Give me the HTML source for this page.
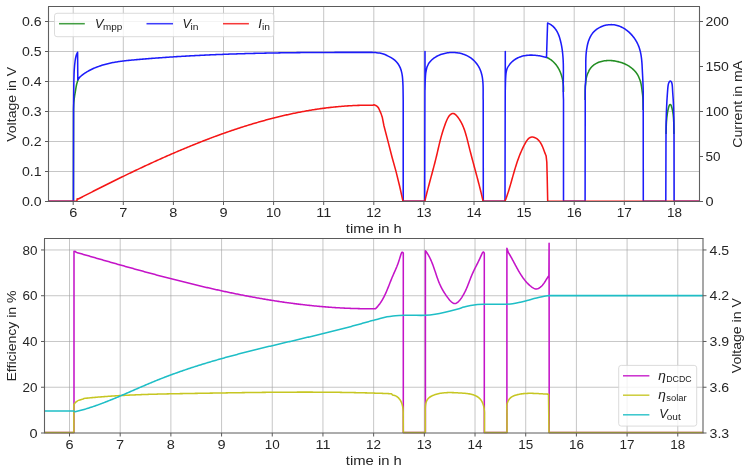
<!DOCTYPE html>
<html><head><meta charset="utf-8"><style>
html,body{margin:0;padding:0;background:#fff;}
svg{display:block;}
</style></head><body>
<svg width="756" height="470" viewBox="0 0 756 470">
<rect width="756" height="470" fill="#fff"/>
<path d="M73.20,6.50 V201.50 M123.30,6.50 V201.50 M173.40,6.50 V201.50 M223.50,6.50 V201.50 M273.60,6.50 V201.50 M323.70,6.50 V201.50 M373.80,6.50 V201.50 M423.90,6.50 V201.50 M474.00,6.50 V201.50 M524.10,6.50 V201.50 M574.20,6.50 V201.50 M624.30,6.50 V201.50 M674.40,6.50 V201.50" stroke="#a0a0a0" stroke-opacity="0.6" stroke-width="1.0" fill="none"/>
<path d="M48.50,171.50 H699.50 M48.50,141.50 H699.50 M48.50,111.50 H699.50 M48.50,81.50 H699.50 M48.50,51.50 H699.50 M48.50,21.50 H699.50" stroke="#a0a0a0" stroke-opacity="0.6" stroke-width="1" fill="none"/>
<clipPath id="ct"><rect x="48.50" y="5.50" width="651.00" height="197.00"/></clipPath>
<g clip-path="url(#ct)" fill="none" stroke-width="1.55" stroke-linejoin="round" stroke-linecap="butt">
<path d="M73.45,201.30 L73.55,110.00 L73.55,110.00 C73.59,108.83 73.62,105.33 73.80,103.00 C73.97,100.67 74.30,98.17 74.60,96.00 C74.90,93.83 75.27,91.92 75.60,90.00 C75.93,88.08 76.23,86.08 76.60,84.50 C76.97,82.92 77.60,81.17 77.80,80.50 L77.80,80.50 L79.00,77.80 M546.50,57.40 L547.47,57.78 L548.43,58.27 L549.36,58.79 L550.25,59.36 L551.12,59.95 L551.94,60.59 L552.74,61.25 L553.51,61.95 L554.24,62.68 L554.94,63.43 L555.61,64.22 L556.26,65.03 L556.87,65.86 L557.45,66.72 L558.01,67.60 L558.53,68.50 L559.03,69.42 L559.50,70.36 L559.94,71.32 L560.35,72.29 L560.73,73.28 L561.09,74.27 L561.43,75.29 L561.73,76.31 L562.02,77.34 L562.27,78.38 L562.50,79.42 L562.71,80.47 L562.89,81.52 L563.05,82.58 L563.18,83.64 L563.30,84.69 L563.39,85.75 L563.45,86.80 L563.50,87.85 L563.52,88.90 L563.52,89.93 L563.50,90.96 L563.50,92.00 M585.15,100.00 C585.17,98.33 585.17,92.67 585.25,90.00 C585.33,87.33 585.44,85.92 585.60,84.00 C585.76,82.08 585.92,80.08 586.20,78.50 C586.48,76.92 586.90,75.65 587.30,74.50 C587.70,73.35 588.38,72.08 588.60,71.60 L588.60,71.60 L589.00,70.62 L589.52,69.70 L590.09,68.84 L590.70,68.02 L591.35,67.25 L592.03,66.53 L592.75,65.85 L593.50,65.22 L594.28,64.63 L595.10,64.08 L595.94,63.58 L596.81,63.12 L597.70,62.69 L598.62,62.31 L599.55,61.97 L600.51,61.67 L601.48,61.40 L602.47,61.17 L603.48,60.98 L604.49,60.82 L605.52,60.70 L606.56,60.61 L607.60,60.55 L608.66,60.53 L609.71,60.54 L610.77,60.57 L611.82,60.64 L612.88,60.74 L613.93,60.86 L614.98,61.01 L616.02,61.19 L617.06,61.40 L618.08,61.63 L619.10,61.88 L620.11,62.17 L621.11,62.48 L622.09,62.82 L623.06,63.18 L624.02,63.57 L624.96,63.98 L625.89,64.43 L626.80,64.90 L627.69,65.39 L628.57,65.91 L629.42,66.46 L630.25,67.03 L631.07,67.63 L631.86,68.26 L632.62,68.91 L633.37,69.59 L634.08,70.30 L634.77,71.03 L635.44,71.78 L636.07,72.57 L636.68,73.38 L637.26,74.21 L637.80,75.07 L638.30,76.00 L638.30,76.00 C638.63,76.85 639.77,79.38 640.30,81.10 C640.83,82.82 641.17,84.40 641.50,86.30 C641.83,88.20 642.07,90.47 642.30,92.50 C642.53,94.53 642.75,95.58 642.90,98.50 C643.05,101.42 643.15,108.08 643.20,110.00 M666.10,134.00 C666.13,132.50 666.18,127.67 666.30,125.00 C666.42,122.33 666.60,120.08 666.80,118.00 C667.00,115.92 667.23,114.13 667.50,112.50 C667.77,110.87 668.10,109.40 668.40,108.20 C668.70,107.00 669.00,105.92 669.30,105.30 C669.60,104.68 669.90,104.50 670.20,104.50 C670.50,104.50 670.80,104.68 671.10,105.30 C671.40,105.92 671.70,107.00 672.00,108.20 C672.30,109.40 672.65,110.87 672.90,112.50 C673.15,114.13 673.34,115.92 673.50,118.00 C673.66,120.08 673.77,122.33 673.85,125.00 C673.93,127.67 673.98,132.50 674.00,134.00" stroke="#238e23"/>
<path d="M48.15,201.30 L73.45,201.30 L73.55,110.00 L73.55,110.00 C73.59,105.83 73.68,91.67 73.80,85.00 C73.92,78.33 74.03,74.00 74.25,70.00 C74.47,66.00 74.77,63.42 75.10,61.00 C75.42,58.58 75.78,56.97 76.20,55.50 C76.62,54.03 77.37,52.75 77.60,52.20 L77.60,52.20 L77.80,80.00 L77.80,80.00 L78.80,78.06 L79.80,77.13 L80.80,76.25 L81.80,75.42 L82.80,74.64 L83.80,73.89 L84.80,73.19 L85.81,72.53 L86.81,71.90 L87.81,71.31 L88.81,70.75 L89.81,70.21 L90.81,69.71 L91.81,69.23 L92.81,68.77 L93.81,68.33 L94.81,67.90 L95.81,67.50 L96.81,67.10 L97.81,66.73 L98.81,66.36 L99.81,66.02 L100.82,65.68 L101.82,65.36 L102.82,65.05 L103.82,64.76 L104.82,64.47 L105.82,64.20 L106.82,63.94 L107.82,63.69 L108.82,63.46 L109.82,63.23 L110.82,63.01 L111.82,62.80 L112.82,62.60 L113.82,62.41 L114.83,62.23 L115.83,62.06 L116.83,61.89 L117.83,61.74 L118.83,61.59 L119.83,61.44 L120.83,61.30 L121.83,61.17 L122.83,61.04 L123.83,60.92 L124.83,60.81 L125.83,60.69 L126.83,60.59 L127.83,60.48 L128.83,60.38 L129.84,60.28 L130.84,60.18 L131.84,60.09 L132.84,60.00 L133.84,59.91 L134.84,59.82 L135.84,59.73 L136.84,59.64 L137.84,59.55 L138.84,59.46 L139.84,59.38 L140.84,59.29 L141.84,59.21 L142.84,59.12 L143.84,59.04 L144.85,58.96 L145.85,58.87 L146.85,58.79 L147.85,58.71 L148.85,58.63 L149.85,58.55 L150.85,58.47 L151.85,58.39 L152.85,58.32 L153.85,58.24 L154.85,58.16 L155.85,58.09 L156.85,58.01 L157.85,57.94 L158.85,57.86 L159.86,57.79 L160.86,57.72 L161.86,57.65 L162.86,57.58 L163.86,57.51 L164.86,57.44 L165.86,57.37 L166.86,57.30 L167.86,57.23 L168.86,57.16 L169.86,57.10 L170.86,57.03 L171.86,56.96 L172.86,56.90 L173.87,56.83 L174.87,56.77 L175.87,56.71 L176.87,56.64 L177.87,56.58 L178.87,56.52 L179.87,56.46 L180.87,56.40 L181.87,56.34 L182.87,56.28 L183.87,56.22 L184.87,56.16 L185.87,56.11 L186.87,56.05 L187.87,55.99 L188.88,55.94 L189.88,55.88 L190.88,55.83 L191.88,55.77 L192.88,55.72 L193.88,55.67 L194.88,55.62 L195.88,55.56 L196.88,55.51 L197.88,55.46 L198.88,55.41 L199.88,55.36 L200.88,55.31 L201.88,55.26 L202.88,55.22 L203.89,55.17 L204.89,55.12 L205.89,55.07 L206.89,55.03 L207.89,54.98 L208.89,54.94 L209.89,54.89 L210.89,54.85 L211.89,54.80 L212.89,54.76 L213.89,54.72 L214.89,54.68 L215.89,54.64 L216.89,54.59 L217.89,54.55 L218.90,54.51 L219.90,54.47 L220.90,54.43 L221.90,54.40 L222.90,54.36 L223.90,54.32 L224.90,54.28 L225.90,54.25 L226.90,54.21 L227.90,54.17 L228.90,54.14 L229.90,54.10 L230.90,54.07 L231.90,54.03 L232.91,54.00 L233.91,53.97 L234.91,53.93 L235.91,53.90 L236.91,53.87 L237.91,53.84 L238.91,53.81 L239.91,53.78 L240.91,53.75 L241.91,53.72 L242.91,53.69 L243.91,53.66 L244.91,53.63 L245.91,53.60 L246.91,53.57 L247.92,53.55 L248.92,53.52 L249.92,53.49 L250.92,53.47 L251.92,53.44 L252.92,53.42 L253.92,53.39 L254.92,53.37 L255.92,53.34 L256.92,53.32 L257.92,53.29 L258.92,53.27 L259.92,53.25 L260.92,53.23 L261.92,53.20 L262.93,53.18 L263.93,53.16 L264.93,53.14 L265.93,53.12 L266.93,53.10 L267.93,53.08 L268.93,53.06 L269.93,53.04 L270.93,53.02 L271.93,53.00 L272.93,52.98 L273.93,52.97 L274.93,52.95 L275.93,52.93 L276.93,52.91 L277.94,52.90 L278.94,52.88 L279.94,52.87 L280.94,52.85 L281.94,52.83 L282.94,52.82 L283.94,52.81 L284.94,52.79 L285.94,52.78 L286.94,52.76 L287.94,52.75 L288.94,52.74 L289.94,52.72 L290.94,52.71 L291.95,52.70 L292.95,52.69 L293.95,52.67 L294.95,52.66 L295.95,52.65 L296.95,52.64 L297.95,52.63 L298.95,52.62 L299.95,52.61 L300.95,52.60 L301.95,52.59 L302.95,52.58 L303.95,52.57 L304.95,52.56 L305.95,52.55 L306.96,52.54 L307.96,52.54 L308.96,52.53 L309.96,52.52 L310.96,52.51 L311.96,52.51 L312.96,52.50 L313.96,52.49 L314.96,52.48 L315.96,52.48 L316.96,52.47 L317.96,52.47 L318.96,52.46 L319.96,52.45 L320.96,52.45 L321.97,52.44 L322.97,52.44 L323.97,52.43 L324.97,52.43 L325.97,52.43 L326.97,52.42 L327.97,52.42 L328.97,52.41 L329.97,52.41 L330.97,52.41 L331.97,52.40 L332.97,52.40 L333.97,52.40 L334.97,52.39 L335.97,52.39 L336.98,52.39 L337.98,52.39 L338.98,52.38 L339.98,52.38 L340.98,52.38 L341.98,52.38 L342.98,52.38 L343.98,52.38 L344.98,52.37 L345.98,52.37 L346.98,52.37 L347.98,52.37 L348.98,52.37 L349.98,52.37 L350.99,52.37 L351.99,52.37 L352.99,52.37 L353.99,52.37 L354.99,52.37 L355.99,52.37 L356.99,52.37 L357.99,52.37 L358.99,52.37 L359.99,52.37 L360.99,52.37 L361.99,52.37 L362.99,52.37 L363.99,52.37 L364.99,52.37 L366.00,52.38 L367.00,52.38 L368.00,52.38 L369.00,52.38 L370.00,52.38 L371.00,52.38 L372.00,52.38 L373.00,52.40 L373.00,52.40 C373.47,52.43 374.68,52.48 375.80,52.60 C376.92,52.72 378.42,52.85 379.70,53.10 C380.98,53.35 382.23,53.67 383.50,54.10 C384.77,54.53 386.03,55.12 387.30,55.70 C388.57,56.28 389.82,56.83 391.10,57.60 C392.38,58.37 393.85,59.28 395.00,60.30 C396.15,61.32 397.12,62.43 398.00,63.70 C398.88,64.97 399.65,66.30 400.30,67.90 C400.95,69.50 401.52,71.52 401.90,73.30 C402.28,75.08 402.42,76.48 402.60,78.60 C402.78,80.72 402.90,82.43 403.00,86.00 C403.10,89.57 403.17,97.67 403.20,100.00 L403.20,100.00 L403.20,201.30 L424.70,201.30 L425.00,51.60 L425.00,90.00 L425.00,90.00 C425.04,88.33 425.13,82.75 425.25,80.00 C425.37,77.25 425.51,75.25 425.70,73.50 C425.89,71.75 426.15,70.65 426.40,69.50 C426.65,68.35 426.83,67.58 427.20,66.60 C427.57,65.62 428.37,64.10 428.60,63.60 L428.60,63.60 L429.18,62.73 L429.82,61.94 L430.49,61.19 L431.19,60.46 L431.92,59.77 L432.68,59.11 L433.47,58.49 L434.28,57.89 L435.12,57.32 L435.99,56.79 L436.87,56.29 L437.78,55.82 L438.70,55.38 L439.65,54.97 L440.61,54.59 L441.58,54.24 L442.57,53.93 L443.57,53.64 L444.59,53.39 L445.61,53.17 L446.64,52.98 L447.68,52.82 L448.72,52.69 L449.77,52.59 L450.82,52.53 L451.87,52.49 L452.93,52.49 L453.98,52.51 L455.03,52.57 L456.07,52.66 L457.11,52.78 L458.14,52.93 L459.17,53.11 L460.18,53.32 L461.19,53.56 L462.18,53.84 L463.16,54.14 L464.12,54.47 L465.07,54.84 L466.00,55.23 L466.91,55.66 L467.80,56.11 L468.67,56.60 L469.52,57.12 L470.35,57.66 L471.15,58.23 L471.93,58.83 L472.69,59.45 L473.42,60.10 L474.13,60.78 L474.82,61.48 L475.48,62.20 L476.11,62.95 L476.72,63.72 L477.29,64.51 L477.85,65.32 L478.37,66.15 L478.86,67.00 L479.33,67.87 L479.76,68.76 L480.17,69.67 L480.54,70.59 L480.88,71.53 L481.19,72.48 L481.47,73.45 L481.73,74.43 L481.95,75.43 L482.16,76.43 L482.34,77.45 L482.49,78.47 L482.63,79.50 L482.74,80.54 L482.84,81.58 L482.92,82.63 L482.99,83.68 L483.04,84.73 L483.08,85.78 L483.11,86.83 L483.13,87.88 L483.15,88.93 L483.15,89.98 L483.15,91.02 L483.15,92.05 L483.15,93.08 L483.14,94.10 L483.14,95.11 L483.13,96.12 L483.13,97.11 L483.14,98.08 L483.15,99.05 L483.20,100.00 L483.20,100.00 L483.30,201.30 L505.00,201.30 L505.30,51.60 L505.30,90.00 L505.30,90.00 C505.34,88.33 505.43,82.75 505.55,80.00 C505.67,77.25 505.81,75.17 506.00,73.50 C506.19,71.83 506.43,71.00 506.70,70.00 C506.97,69.00 507.07,68.48 507.60,67.50 C508.13,66.52 509.52,64.67 509.90,64.10 L509.90,64.10 L510.58,63.30 L511.31,62.51 L512.06,61.76 L512.84,61.06 L513.64,60.41 L514.46,59.79 L515.31,59.23 L516.18,58.70 L517.07,58.21 L517.98,57.76 L518.90,57.36 L519.85,56.99 L520.80,56.65 L521.78,56.35 L522.76,56.09 L523.76,55.86 L524.77,55.67 L525.79,55.50 L526.81,55.37 L527.85,55.26 L528.89,55.19 L529.94,55.14 L530.99,55.12 L532.04,55.13 L533.10,55.16 L534.15,55.22 L535.21,55.30 L536.26,55.40 L537.31,55.52 L538.36,55.67 L539.41,55.83 L540.44,56.01 L541.47,56.21 L542.49,56.42 L543.51,56.65 L544.51,56.89 L545.50,57.15 L546.50,57.40 L546.50,57.40 L547.60,23.00 L547.60,23.00 L548.53,23.36 L549.45,23.83 L550.34,24.35 L551.19,24.92 L552.01,25.53 L552.80,26.19 L553.54,26.88 L554.24,27.61 L554.90,28.37 L555.52,29.16 L556.09,29.98 L556.63,30.82 L557.13,31.69 L557.59,32.58 L558.02,33.49 L558.42,34.42 L558.80,35.36 L559.15,36.31 L559.47,37.28 L559.77,38.25 L560.05,39.23 L560.32,40.22 L560.57,41.21 L560.81,42.20 L561.03,43.20 L561.24,44.19 L561.44,45.19 L561.63,46.19 L561.80,47.19 L561.97,48.19 L562.12,49.19 L562.26,50.19 L562.39,51.20 L562.51,52.20 L562.62,53.21 L562.73,54.22 L562.82,55.23 L562.90,56.24 L562.98,57.25 L563.05,58.26 L563.11,59.28 L563.17,60.29 L563.21,61.31 L563.25,62.32 L563.29,63.34 L563.32,64.35 L563.34,65.37 L563.36,66.39 L563.37,67.41 L563.38,68.43 L563.39,69.45 L563.39,70.47 L563.39,71.49 L563.39,72.51 L563.38,73.53 L563.37,74.55 L563.36,75.57 L563.35,76.59 L563.34,77.62 L563.33,78.64 L563.31,79.66 L563.30,80.68 L563.28,81.70 L563.27,82.72 L563.26,83.74 L563.25,84.76 L563.24,85.78 L563.24,86.80 L563.23,87.82 L563.23,88.84 L563.24,89.86 L563.24,90.87 L563.25,91.89 L563.27,92.91 L563.29,93.92 L563.31,94.94 L563.34,95.95 L563.37,96.96 L563.42,97.98 L563.46,98.99 L563.50,100.00 L563.50,100.00 L563.50,201.30 L585.10,201.30 L585.25,86.00 L585.25,86.00 L585.35,85.00 L585.44,84.01 L585.52,83.02 L585.58,82.02 L585.64,81.02 L585.69,80.02 L585.72,79.02 L585.75,78.01 L585.77,77.01 L585.79,76.00 L585.80,74.99 L585.80,73.98 L585.80,72.97 L585.80,71.95 L585.80,70.94 L585.79,69.92 L585.78,68.91 L585.77,67.89 L585.77,66.87 L585.76,65.85 L585.76,64.83 L585.76,63.81 L585.77,62.79 L585.78,61.77 L585.80,60.75 L585.82,59.74 L585.85,58.72 L585.89,57.70 L585.94,56.68 L586.00,55.66 L586.07,54.64 L586.15,53.62 L586.24,52.61 L586.35,51.59 L586.48,50.58 L586.61,49.57 L586.77,48.56 L586.94,47.55 L587.12,46.54 L587.33,45.53 L587.56,44.53 L587.81,43.54 L588.08,42.55 L588.37,41.57 L588.69,40.61 L589.04,39.66 L589.41,38.73 L589.82,37.81 L590.25,36.92 L590.72,36.05 L591.22,35.20 L591.75,34.37 L592.32,33.58 L592.93,32.82 L593.58,32.08 L594.25,31.38 L594.96,30.71 L595.71,30.07 L596.48,29.46 L597.27,28.89 L598.10,28.35 L598.94,27.84 L599.81,27.37 L600.70,26.94 L601.60,26.54 L602.52,26.18 L603.46,25.85 L604.41,25.56 L605.37,25.31 L606.34,25.10 L607.32,24.93 L608.30,24.79 L609.29,24.70 L610.27,24.65 L611.26,24.63 L612.25,24.66 L613.23,24.73 L614.21,24.84 L615.18,25.00 L616.14,25.20 L617.10,25.43 L618.05,25.71 L618.98,26.03 L619.91,26.38 L620.83,26.77 L621.73,27.19 L622.62,27.65 L623.50,28.14 L624.37,28.66 L625.22,29.21 L626.05,29.80 L626.87,30.41 L627.68,31.04 L628.46,31.71 L629.23,32.39 L629.98,33.11 L630.71,33.84 L631.42,34.60 L632.11,35.37 L632.78,36.17 L633.43,36.99 L634.05,37.82 L634.65,38.67 L635.23,39.53 L635.78,40.41 L636.31,41.29 L636.81,42.20 L637.28,43.11 L637.73,44.03 L638.15,44.96 L638.54,45.89 L638.90,46.84 L639.24,47.79 L639.55,48.74 L639.83,49.71 L640.10,50.68 L640.34,51.65 L640.56,52.63 L640.76,53.61 L640.95,54.60 L641.11,55.59 L641.26,56.58 L641.40,57.58 L641.52,58.58 L641.63,59.59 L641.73,60.60 L641.82,61.61 L641.90,62.62 L641.97,63.63 L642.04,64.64 L642.10,65.66 L642.15,66.67 L642.20,67.69 L642.25,68.70 L642.30,69.72 L642.35,70.73 L642.40,71.74 L642.45,72.75 L642.51,73.76 L642.56,74.77 L642.61,75.78 L642.66,76.79 L642.71,77.80 L642.76,78.81 L642.81,79.82 L642.86,80.83 L642.90,81.83 L642.95,82.84 L642.99,83.85 L643.03,84.86 L643.07,85.86 L643.10,86.87 L643.13,87.88 L643.16,88.89 L643.18,89.90 L643.20,90.91 L643.22,91.92 L643.23,92.93 L643.24,93.94 L643.24,94.95 L643.23,95.97 L643.22,96.98 L643.20,98.00 L643.20,98.00 L643.30,201.30 L665.80,201.30 L666.00,134.00 L666.00,134.00 L666.01,132.95 L666.01,131.91 L666.02,130.88 L666.03,129.84 L666.04,128.81 L666.05,127.79 L666.06,126.77 L666.07,125.75 L666.09,124.74 L666.10,123.72 L666.12,122.71 L666.14,121.71 L666.16,120.70 L666.18,119.70 L666.21,118.69 L666.23,117.69 L666.26,116.69 L666.29,115.69 L666.32,114.69 L666.35,113.69 L666.38,112.69 L666.42,111.69 L666.46,110.69 L666.50,109.69 L666.54,108.68 L666.58,107.68 L666.63,106.67 L666.67,105.66 L666.72,104.65 L666.78,103.64 L666.83,102.62 L666.89,101.60 L666.94,100.58 L667.00,99.56 L667.07,98.53 L667.13,97.49 L667.20,96.45 L667.27,95.41 L667.34,94.36 L667.42,93.31 L667.50,92.25 L667.58,91.18 L667.66,90.11 L667.74,89.04 L667.83,87.96 L667.94,86.88 L668.06,85.83 L668.23,84.83 L668.44,83.88 L668.72,83.01 L669.06,82.23 L669.49,81.58 L669.96,81.16 L670.46,81.07 L670.94,81.32 L671.37,81.86 L671.71,82.63 L671.97,83.57 L672.17,84.65 L672.30,85.82 L672.40,87.04 L672.47,88.28 L672.54,89.50 L672.60,90.65 L672.67,91.75 L672.73,92.81 L672.80,93.82 L672.87,94.81 L672.94,95.77 L673.01,96.71 L673.08,97.65 L673.14,98.58 L673.20,99.53 L673.26,100.48 L673.31,101.45 L673.36,102.43 L673.41,103.42 L673.45,104.42 L673.49,105.44 L673.53,106.46 L673.57,107.49 L673.60,108.52 L673.63,109.57 L673.66,110.61 L673.69,111.66 L673.71,112.72 L673.73,113.78 L673.75,114.84 L673.77,115.89 L673.79,116.95 L673.80,118.01 L673.82,119.07 L673.83,120.12 L673.85,121.17 L673.86,122.21 L673.87,123.24 L673.88,124.28 L673.89,125.30 L673.90,126.31 L673.91,127.32 L673.92,128.31 L673.94,129.29 L673.95,130.26 L673.96,131.22 L673.97,132.16 L673.99,133.09 L674.00,134.00 L674.00,134.00 L674.10,201.30 L699.45,201.30" stroke="#1c1cfa"/>
<path d="M48.15,201.30 L76.80,201.30 L77.20,198.80 L77.20,199.10 L78.20,199.01 L79.21,198.49 L80.21,197.97 L81.21,197.46 L82.21,196.94 L83.22,196.43 L84.22,195.91 L85.22,195.40 L86.22,194.89 L87.23,194.37 L88.23,193.86 L89.23,193.35 L90.24,192.84 L91.24,192.33 L92.24,191.82 L93.24,191.31 L94.25,190.80 L95.25,190.29 L96.25,189.78 L97.25,189.28 L98.26,188.77 L99.26,188.26 L100.26,187.76 L101.26,187.25 L102.27,186.75 L103.27,186.25 L104.27,185.74 L105.28,185.24 L106.28,184.74 L107.28,184.24 L108.28,183.74 L109.29,183.24 L110.29,182.74 L111.29,182.24 L112.29,181.75 L113.30,181.25 L114.30,180.75 L115.30,180.26 L116.31,179.77 L117.31,179.27 L118.31,178.78 L119.31,178.29 L120.32,177.80 L121.32,177.31 L122.32,176.82 L123.32,176.33 L124.33,175.84 L125.33,175.36 L126.33,174.87 L127.34,174.39 L128.34,173.90 L129.34,173.42 L130.34,172.94 L131.35,172.46 L132.35,171.98 L133.35,171.50 L134.35,171.02 L135.36,170.54 L136.36,170.07 L137.36,169.59 L138.36,169.12 L139.37,168.64 L140.37,168.17 L141.37,167.70 L142.38,167.23 L143.38,166.76 L144.38,166.29 L145.38,165.82 L146.39,165.36 L147.39,164.89 L148.39,164.43 L149.39,163.97 L150.40,163.50 L151.40,163.04 L152.40,162.58 L153.41,162.13 L154.41,161.67 L155.41,161.21 L156.41,160.76 L157.42,160.30 L158.42,159.85 L159.42,159.40 L160.42,158.95 L161.43,158.50 L162.43,158.05 L163.43,157.60 L164.44,157.16 L165.44,156.72 L166.44,156.27 L167.44,155.83 L168.45,155.39 L169.45,154.95 L170.45,154.51 L171.45,154.08 L172.46,153.64 L173.46,153.21 L174.46,152.77 L175.46,152.34 L176.47,151.91 L177.47,151.48 L178.47,151.06 L179.48,150.63 L180.48,150.21 L181.48,149.78 L182.48,149.36 L183.49,148.94 L184.49,148.52 L185.49,148.10 L186.49,147.69 L187.50,147.27 L188.50,146.86 L189.50,146.45 L190.51,146.04 L191.51,145.63 L192.51,145.22 L193.51,144.82 L194.52,144.41 L195.52,144.01 L196.52,143.61 L197.52,143.21 L198.53,142.81 L199.53,142.41 L200.53,142.02 L201.54,141.62 L202.54,141.23 L203.54,140.84 L204.54,140.45 L205.55,140.06 L206.55,139.68 L207.55,139.29 L208.55,138.91 L209.56,138.53 L210.56,138.15 L211.56,137.78 L212.56,137.40 L213.57,137.03 L214.57,136.65 L215.57,136.28 L216.58,135.91 L217.58,135.55 L218.58,135.18 L219.58,134.82 L220.59,134.45 L221.59,134.09 L222.59,133.74 L223.59,133.38 L224.60,133.02 L225.60,132.67 L226.60,132.32 L227.61,131.97 L228.61,131.62 L229.61,131.28 L230.61,130.93 L231.62,130.59 L232.62,130.25 L233.62,129.91 L234.62,129.57 L235.63,129.24 L236.63,128.91 L237.63,128.58 L238.64,128.25 L239.64,127.92 L240.64,127.59 L241.64,127.27 L242.65,126.95 L243.65,126.63 L244.65,126.31 L245.65,126.00 L246.66,125.68 L247.66,125.37 L248.66,125.06 L249.66,124.76 L250.67,124.45 L251.67,124.15 L252.67,123.84 L253.68,123.55 L254.68,123.25 L255.68,122.95 L256.68,122.66 L257.69,122.37 L258.69,122.08 L259.69,121.79 L260.69,121.51 L261.70,121.23 L262.70,120.95 L263.70,120.67 L264.71,120.39 L265.71,120.12 L266.71,119.85 L267.71,119.58 L268.72,119.31 L269.72,119.04 L270.72,118.78 L271.72,118.52 L272.73,118.26 L273.73,118.00 L274.73,117.75 L275.74,117.50 L276.74,117.25 L277.74,117.00 L278.74,116.76 L279.75,116.51 L280.75,116.27 L281.75,116.03 L282.75,115.80 L283.76,115.56 L284.76,115.33 L285.76,115.10 L286.76,114.88 L287.77,114.65 L288.77,114.43 L289.77,114.21 L290.78,114.00 L291.78,113.78 L292.78,113.57 L293.78,113.36 L294.79,113.15 L295.79,112.95 L296.79,112.74 L297.79,112.54 L298.80,112.35 L299.80,112.15 L300.80,111.96 L301.81,111.77 L302.81,111.58 L303.81,111.40 L304.81,111.21 L305.82,111.03 L306.82,110.86 L307.82,110.68 L308.82,110.51 L309.83,110.34 L310.83,110.17 L311.83,110.01 L312.84,109.85 L313.84,109.69 L314.84,109.53 L315.84,109.38 L316.85,109.22 L317.85,109.07 L318.85,108.93 L319.85,108.78 L320.86,108.64 L321.86,108.51 L322.86,108.37 L323.86,108.24 L324.87,108.11 L325.87,107.98 L326.87,107.85 L327.88,107.73 L328.88,107.61 L329.88,107.50 L330.88,107.38 L331.89,107.27 L332.89,107.16 L333.89,107.06 L334.89,106.96 L335.90,106.86 L336.90,106.76 L337.90,106.66 L338.91,106.57 L339.91,106.48 L340.91,106.40 L341.91,106.32 L342.92,106.24 L343.92,106.16 L344.92,106.09 L345.92,106.01 L346.93,105.95 L347.93,105.88 L348.93,105.82 L349.94,105.76 L350.94,105.70 L351.94,105.65 L352.94,105.60 L353.95,105.55 L354.95,105.50 L355.95,105.46 L356.95,105.42 L357.96,105.39 L358.96,105.36 L359.96,105.33 L360.96,105.30 L361.97,105.28 L362.97,105.26 L363.97,105.24 L364.98,105.22 L365.98,105.21 L366.98,105.20 L367.98,105.20 L368.99,105.20 L369.99,105.20 L370.99,105.20 L371.99,105.21 L373.00,105.22 L374.00,104.80 L374.00,104.80 C374.42,104.97 375.80,105.35 376.50,105.80 C377.20,106.25 377.68,106.75 378.20,107.50 C378.72,108.25 379.13,109.30 379.60,110.30 C380.07,111.30 380.55,112.33 381.00,113.50 C381.45,114.67 382.08,116.67 382.30,117.30 L382.30,117.30 L384.00,126.00 L388.00,141.40 L392.00,157.00 L396.00,171.40 L399.60,186.00 L403.00,201.30 L424.60,201.30 L424.80,201.30 L425.03,200.32 L425.26,199.35 L425.50,198.38 L425.73,197.40 L425.97,196.43 L426.21,195.45 L426.46,194.48 L426.70,193.50 L426.95,192.52 L427.20,191.55 L427.45,190.57 L427.71,189.59 L427.96,188.62 L428.22,187.64 L428.48,186.66 L428.74,185.68 L429.00,184.70 L429.26,183.72 L429.52,182.75 L429.78,181.77 L430.05,180.79 L430.31,179.81 L430.57,178.83 L430.84,177.85 L431.10,176.88 L431.36,175.90 L431.63,174.92 L431.89,173.94 L432.15,172.97 L432.41,171.99 L432.68,171.02 L432.94,170.04 L433.19,169.06 L433.45,168.09 L433.71,167.12 L433.96,166.14 L434.22,165.17 L434.47,164.20 L434.72,163.23 L434.97,162.25 L435.22,161.28 L435.46,160.32 L435.70,159.35 L435.94,158.38 L436.18,157.41 L436.41,156.45 L436.65,155.48 L436.87,154.52 L437.10,153.56 L437.33,152.59 L437.55,151.63 L437.77,150.67 L437.99,149.71 L438.22,148.75 L438.44,147.78 L438.67,146.82 L438.89,145.86 L439.12,144.89 L439.35,143.93 L439.58,142.96 L439.82,141.99 L440.06,141.02 L440.31,140.05 L440.56,139.08 L440.81,138.10 L441.07,137.13 L441.34,136.15 L441.62,135.16 L441.90,134.18 L442.19,133.19 L442.49,132.20 L442.79,131.20 L443.11,130.20 L443.43,129.20 L443.77,128.19 L444.11,127.18 L444.47,126.17 L444.84,125.15 L445.22,124.12 L445.61,123.09 L446.02,122.06 L446.44,121.02 L446.87,119.99 L447.33,118.99 L447.82,118.02 L448.34,117.10 L448.90,116.26 L449.49,115.49 L450.14,114.82 L450.83,114.27 L451.58,113.84 L452.38,113.56 L453.21,113.47 L454.02,113.63 L454.78,114.03 L455.50,114.60 L456.19,115.28 L456.86,116.02 L457.49,116.78 L458.10,117.55 L458.68,118.34 L459.24,119.15 L459.78,119.97 L460.30,120.80 L460.79,121.66 L461.26,122.52 L461.71,123.40 L462.15,124.29 L462.57,125.19 L462.97,126.10 L463.35,127.02 L463.72,127.95 L464.07,128.89 L464.41,129.84 L464.74,130.80 L465.06,131.76 L465.37,132.73 L465.66,133.70 L465.95,134.69 L466.23,135.67 L466.50,136.66 L466.77,137.65 L467.03,138.65 L467.28,139.65 L467.54,140.65 L467.78,141.65 L468.03,142.65 L468.28,143.65 L468.53,144.65 L468.77,145.65 L469.02,146.64 L469.27,147.63 L469.52,148.63 L469.77,149.61 L470.03,150.60 L470.28,151.59 L470.54,152.57 L470.79,153.56 L471.05,154.54 L471.31,155.52 L471.57,156.50 L471.82,157.47 L472.08,158.45 L472.34,159.43 L472.60,160.40 L472.87,161.37 L473.13,162.34 L473.39,163.32 L473.65,164.29 L473.91,165.26 L474.17,166.23 L474.43,167.19 L474.70,168.16 L474.96,169.13 L475.22,170.10 L475.48,171.07 L475.74,172.03 L476.00,173.00 L476.26,173.97 L476.52,174.93 L476.78,175.90 L477.04,176.87 L477.29,177.84 L477.55,178.80 L477.81,179.77 L478.06,180.74 L478.31,181.71 L478.57,182.68 L478.82,183.65 L479.07,184.62 L479.32,185.59 L479.57,186.57 L479.81,187.54 L480.06,188.51 L480.30,189.49 L480.55,190.47 L480.79,191.45 L481.03,192.43 L481.26,193.41 L481.50,194.39 L481.73,195.38 L481.96,196.36 L482.19,197.35 L482.42,198.34 L482.65,199.33 L482.87,200.32 L483.10,201.30 L483.90,201.30 L505.00,201.30 L505.00,201.30 L505.35,200.35 L505.71,199.39 L506.07,198.42 L506.41,197.46 L506.75,196.50 L507.09,195.53 L507.41,194.56 L507.73,193.60 L508.05,192.63 L508.36,191.66 L508.66,190.69 L508.96,189.73 L509.26,188.76 L509.55,187.79 L509.84,186.82 L510.12,185.85 L510.41,184.87 L510.69,183.90 L510.97,182.93 L511.24,181.96 L511.52,180.99 L511.79,180.02 L512.07,179.04 L512.34,178.07 L512.61,177.10 L512.89,176.13 L513.16,175.15 L513.44,174.18 L513.72,173.21 L514.00,172.24 L514.28,171.27 L514.57,170.29 L514.86,169.32 L515.15,168.35 L515.44,167.38 L515.74,166.41 L516.05,165.44 L516.36,164.47 L516.67,163.50 L517.00,162.53 L517.32,161.57 L517.66,160.60 L518.00,159.63 L518.34,158.67 L518.70,157.70 L519.06,156.74 L519.43,155.78 L519.81,154.81 L520.20,153.85 L520.60,152.89 L521.01,151.93 L521.43,150.97 L521.85,150.01 L522.29,149.06 L522.74,148.10 L523.21,147.15 L523.68,146.19 L524.17,145.24 L524.67,144.29 L525.18,143.34 L525.71,142.41 L526.26,141.50 L526.83,140.64 L527.43,139.84 L528.06,139.10 L528.72,138.46 L529.42,137.92 L530.17,137.49 L530.95,137.20 L531.79,137.05 L532.68,137.06 L533.61,137.22 L534.54,137.52 L535.46,137.92 L536.33,138.41 L537.13,138.97 L537.89,139.60 L538.59,140.29 L539.24,141.03 L539.85,141.82 L540.42,142.65 L540.95,143.52 L541.44,144.43 L541.91,145.36 L542.35,146.31 L542.76,147.28 L543.16,148.26 L543.54,149.24 L543.91,150.22 L544.28,151.20 L544.63,152.16 L544.99,153.11 L545.35,154.03 L545.72,154.93 L546.10,155.80 L546.10,155.80 L546.80,162.00 L547.20,177.20 L547.70,201.30 L699.45,201.30" stroke="#f51616"/>
</g>
<path d="M48.00,6.50 H700.00 M48.00,201.50 H700.00" stroke="#5a5a5a" stroke-width="1" fill="none"/>
<path d="M48.50,6.50 V201.50 M699.50,6.50 V201.50" stroke="#606060" stroke-width="1.1" fill="none"/>
<path d="M73.20,201.50 v3.5 M123.30,201.50 v3.5 M173.40,201.50 v3.5 M223.50,201.50 v3.5 M273.60,201.50 v3.5 M323.70,201.50 v3.5 M373.80,201.50 v3.5 M423.90,201.50 v3.5 M474.00,201.50 v3.5 M524.10,201.50 v3.5 M574.20,201.50 v3.5 M624.30,201.50 v3.5 M674.40,201.50 v3.5 M48.50,201.50 h-3.5 M48.50,171.50 h-3.5 M48.50,141.50 h-3.5 M48.50,111.50 h-3.5 M48.50,81.50 h-3.5 M48.50,51.50 h-3.5 M48.50,21.50 h-3.5 M699.50,201.50 h3.5 M699.50,156.50 h3.5 M699.50,111.50 h3.5 M699.50,66.50 h3.5 M699.50,21.50 h3.5" stroke="#5a5a5a" stroke-width="1" fill="none"/>
<path d="M69.50,238.50 V433.00 M120.19,238.50 V433.00 M170.88,238.50 V433.00 M221.57,238.50 V433.00 M272.26,238.50 V433.00 M322.95,238.50 V433.00 M373.64,238.50 V433.00 M424.33,238.50 V433.00 M475.02,238.50 V433.00 M525.71,238.50 V433.00 M576.40,238.50 V433.00 M627.09,238.50 V433.00 M677.78,238.50 V433.00" stroke="#a0a0a0" stroke-opacity="0.6" stroke-width="1.0" fill="none"/>
<path d="M44.50,387.24 H703.00 M44.50,341.48 H703.00 M44.50,295.72 H703.00 M44.50,249.96 H703.00" stroke="#a0a0a0" stroke-opacity="0.6" stroke-width="1" fill="none"/>
<clipPath id="cb"><rect x="44.50" y="237.50" width="658.50" height="196.50"/></clipPath>
<g clip-path="url(#cb)"><g transform="translate(0,0.5)" fill="none" stroke-width="1.55" stroke-linejoin="round" stroke-linecap="butt">
<path d="M44.15,432.00 L74.00,432.00 L74.00,250.70 L75.30,250.90 L75.30,250.90 L76.30,251.87 L77.30,252.16 L78.30,252.45 L79.30,252.74 L80.30,253.03 L81.30,253.32 L82.30,253.60 L83.30,253.89 L84.30,254.18 L85.30,254.47 L86.30,254.76 L87.30,255.05 L88.30,255.34 L89.30,255.62 L90.30,255.91 L91.30,256.20 L92.30,256.49 L93.30,256.78 L94.30,257.07 L95.30,257.35 L96.30,257.64 L97.30,257.93 L98.30,258.21 L99.30,258.50 L100.30,258.79 L101.30,259.08 L102.30,259.36 L103.30,259.65 L104.30,259.93 L105.30,260.22 L106.30,260.51 L107.30,260.79 L108.30,261.08 L109.30,261.36 L110.30,261.65 L111.30,261.93 L112.30,262.22 L113.30,262.50 L114.30,262.78 L115.30,263.07 L116.30,263.35 L117.30,263.63 L118.30,263.92 L119.30,264.20 L120.30,264.48 L121.30,264.76 L122.30,265.04 L123.30,265.33 L124.30,265.61 L125.30,265.89 L126.30,266.17 L127.30,266.45 L128.30,266.73 L129.30,267.01 L130.30,267.28 L131.30,267.56 L132.30,267.84 L133.30,268.12 L134.30,268.39 L135.30,268.67 L136.30,268.95 L137.30,269.22 L138.30,269.50 L139.30,269.77 L140.30,270.05 L141.30,270.32 L142.30,270.60 L143.30,270.87 L144.30,271.14 L145.30,271.42 L146.30,271.69 L147.30,271.96 L148.30,272.23 L149.30,272.50 L150.30,272.77 L151.30,273.04 L152.30,273.31 L153.30,273.58 L154.30,273.85 L155.30,274.11 L156.30,274.38 L157.30,274.65 L158.30,274.91 L159.30,275.18 L160.30,275.44 L161.30,275.71 L162.30,275.97 L163.30,276.23 L164.30,276.50 L165.30,276.76 L166.30,277.02 L167.30,277.28 L168.30,277.54 L169.30,277.80 L170.30,278.06 L171.30,278.31 L172.30,278.57 L173.30,278.83 L174.30,279.08 L175.30,279.34 L176.30,279.59 L177.30,279.85 L178.30,280.10 L179.30,280.35 L180.30,280.61 L181.30,280.86 L182.30,281.11 L183.30,281.36 L184.30,281.61 L185.30,281.86 L186.30,282.10 L187.30,282.35 L188.30,282.60 L189.30,282.84 L190.30,283.09 L191.30,283.33 L192.30,283.57 L193.30,283.82 L194.30,284.06 L195.30,284.30 L196.30,284.54 L197.30,284.78 L198.30,285.02 L199.30,285.25 L200.30,285.49 L201.30,285.73 L202.30,285.96 L203.30,286.20 L204.30,286.43 L205.30,286.66 L206.30,286.89 L207.30,287.12 L208.30,287.35 L209.30,287.58 L210.30,287.81 L211.30,288.04 L212.30,288.26 L213.30,288.49 L214.30,288.71 L215.30,288.94 L216.30,289.16 L217.30,289.38 L218.30,289.60 L219.30,289.82 L220.30,290.04 L221.30,290.26 L222.30,290.48 L223.30,290.69 L224.30,290.91 L225.30,291.12 L226.30,291.33 L227.30,291.55 L228.30,291.76 L229.30,291.97 L230.30,292.18 L231.30,292.38 L232.30,292.59 L233.30,292.80 L234.30,293.00 L235.30,293.20 L236.30,293.41 L237.30,293.61 L238.30,293.81 L239.30,294.01 L240.30,294.21 L241.30,294.40 L242.30,294.60 L243.30,294.79 L244.30,294.99 L245.30,295.18 L246.30,295.37 L247.30,295.56 L248.30,295.75 L249.30,295.94 L250.30,296.13 L251.30,296.31 L252.30,296.50 L253.30,296.68 L254.30,296.86 L255.30,297.05 L256.30,297.23 L257.30,297.40 L258.30,297.58 L259.30,297.76 L260.30,297.93 L261.30,298.11 L262.30,298.28 L263.30,298.45 L264.30,298.62 L265.30,298.79 L266.30,298.96 L267.30,299.12 L268.30,299.29 L269.30,299.45 L270.30,299.62 L271.30,299.78 L272.30,299.94 L273.30,300.10 L274.30,300.25 L275.30,300.41 L276.30,300.56 L277.30,300.72 L278.30,300.87 L279.30,301.02 L280.30,301.17 L281.30,301.32 L282.30,301.46 L283.30,301.61 L284.30,301.75 L285.30,301.90 L286.30,302.04 L287.30,302.18 L288.30,302.31 L289.30,302.45 L290.30,302.59 L291.30,302.72 L292.30,302.85 L293.30,302.99 L294.30,303.11 L295.30,303.24 L296.30,303.37 L297.30,303.50 L298.30,303.62 L299.30,303.74 L300.30,303.86 L301.30,303.98 L302.30,304.10 L303.30,304.22 L304.30,304.33 L305.30,304.45 L306.30,304.56 L307.30,304.67 L308.30,304.78 L309.30,304.88 L310.30,304.99 L311.30,305.09 L312.30,305.20 L313.30,305.30 L314.30,305.40 L315.30,305.49 L316.30,305.59 L317.30,305.69 L318.30,305.78 L319.30,305.87 L320.30,305.96 L321.30,306.05 L322.30,306.14 L323.30,306.22 L324.30,306.30 L325.30,306.39 L326.30,306.47 L327.30,306.54 L328.30,306.62 L329.30,306.70 L330.30,306.77 L331.30,306.84 L332.30,306.91 L333.30,306.98 L334.30,307.05 L335.30,307.11 L336.30,307.17 L337.30,307.24 L338.30,307.30 L339.30,307.35 L340.30,307.41 L341.30,307.46 L342.30,307.52 L343.30,307.57 L344.30,307.62 L345.30,307.66 L346.30,307.71 L347.30,307.75 L348.30,307.80 L349.30,307.84 L350.30,307.88 L351.30,307.91 L352.30,307.95 L353.30,307.98 L354.30,308.01 L355.30,308.04 L356.30,308.07 L357.30,308.09 L358.30,308.12 L359.30,308.14 L360.30,308.16 L361.30,308.18 L362.30,308.19 L363.30,308.21 L364.30,308.22 L365.30,308.23 L366.30,308.24 L367.30,308.25 L368.30,308.25 L369.30,308.25 L370.30,308.25 L371.30,308.25 L372.30,308.25 L373.30,308.25 L374.30,308.24 L375.30,308.30 L375.30,308.30 L376.07,307.61 L376.79,306.88 L377.48,306.12 L378.15,305.35 L378.79,304.55 L379.41,303.75 L380.02,302.93 L380.60,302.09 L381.16,301.24 L381.71,300.37 L382.24,299.50 L382.75,298.61 L383.25,297.71 L383.73,296.80 L384.20,295.89 L384.66,294.96 L385.11,294.03 L385.54,293.09 L385.97,292.14 L386.38,291.19 L386.79,290.23 L387.19,289.27 L387.59,288.31 L387.98,287.34 L388.37,286.38 L388.75,285.41 L389.13,284.44 L389.51,283.48 L389.89,282.51 L390.27,281.55 L390.65,280.59 L391.03,279.63 L391.41,278.68 L391.80,277.74 L392.20,276.80 L392.59,275.87 L393.00,274.94 L393.40,274.02 L393.80,273.10 L394.21,272.18 L394.61,271.27 L395.02,270.36 L395.42,269.44 L395.81,268.53 L396.20,267.61 L396.59,266.69 L396.97,265.77 L397.33,264.84 L397.69,263.91 L398.04,262.97 L398.38,262.02 L398.71,261.07 L399.02,260.11 L399.33,259.12 L399.64,258.11 L399.96,257.05 L400.30,255.95 L400.66,254.79 L401.06,253.59 L401.50,252.53 L402.01,251.83 L402.60,251.71 L403.30,252.50 L403.30,252.50 L403.30,432.00 L425.40,432.00 L425.40,250.30 L425.40,250.30 L426.09,251.05 L426.67,251.87 L427.23,252.71 L427.76,253.56 L428.28,254.42 L428.77,255.29 L429.25,256.18 L429.71,257.08 L430.16,257.98 L430.59,258.90 L431.00,259.83 L431.41,260.76 L431.80,261.70 L432.18,262.65 L432.55,263.60 L432.91,264.56 L433.26,265.53 L433.60,266.49 L433.94,267.46 L434.28,268.44 L434.61,269.41 L434.93,270.38 L435.26,271.36 L435.58,272.33 L435.91,273.30 L436.23,274.27 L436.56,275.24 L436.89,276.20 L437.22,277.16 L437.56,278.11 L437.90,279.05 L438.25,279.99 L438.61,280.92 L438.98,281.85 L439.35,282.76 L439.74,283.66 L440.14,284.56 L440.55,285.44 L440.98,286.32 L441.42,287.19 L441.87,288.05 L442.34,288.91 L442.83,289.77 L443.34,290.62 L443.86,291.48 L444.40,292.34 L444.96,293.20 L445.55,294.07 L446.15,294.95 L446.78,295.83 L447.42,296.72 L448.10,297.62 L448.79,298.53 L449.50,299.41 L450.24,300.24 L450.98,301.01 L451.74,301.69 L452.50,302.25 L453.27,302.67 L454.04,302.94 L454.80,303.02 L455.57,302.92 L456.33,302.65 L457.08,302.24 L457.81,301.70 L458.54,301.05 L459.24,300.31 L459.93,299.49 L460.60,298.63 L461.24,297.73 L461.86,296.81 L462.44,295.88 L463.00,294.96 L463.54,294.03 L464.05,293.11 L464.54,292.18 L465.01,291.25 L465.46,290.32 L465.89,289.39 L466.31,288.46 L466.72,287.53 L467.11,286.60 L467.49,285.67 L467.86,284.74 L468.23,283.81 L468.59,282.88 L468.95,281.95 L469.30,281.02 L469.66,280.09 L470.01,279.16 L470.37,278.24 L470.73,277.32 L471.10,276.39 L471.47,275.47 L471.86,274.56 L472.25,273.64 L472.66,272.73 L473.08,271.81 L473.50,270.90 L473.93,270.00 L474.37,269.09 L474.82,268.19 L475.27,267.28 L475.72,266.38 L476.17,265.48 L476.62,264.58 L477.08,263.68 L477.53,262.78 L477.97,261.89 L478.42,260.99 L478.85,260.10 L479.28,259.20 L479.71,258.30 L480.13,257.38 L480.57,256.43 L481.02,255.42 L481.49,254.33 L482.00,253.20 L482.53,252.21 L483.09,251.61 L483.69,251.64 L484.30,252.60 L484.30,252.60 L484.30,432.00 L506.90,432.00 L506.90,247.70 L508.10,251.50 L508.10,251.50 L508.61,252.40 L509.13,253.26 L509.66,254.13 L510.17,255.01 L510.68,255.90 L511.19,256.80 L511.69,257.70 L512.18,258.61 L512.68,259.52 L513.17,260.43 L513.66,261.35 L514.15,262.27 L514.64,263.19 L515.13,264.12 L515.62,265.04 L516.12,265.96 L516.62,266.88 L517.12,267.80 L517.62,268.71 L518.14,269.62 L518.65,270.52 L519.18,271.42 L519.71,272.31 L520.25,273.19 L520.80,274.07 L521.36,274.93 L521.93,275.79 L522.51,276.63 L523.10,277.47 L523.71,278.29 L524.33,279.10 L524.96,279.89 L525.61,280.67 L526.27,281.43 L526.95,282.18 L527.65,282.91 L528.36,283.62 L529.10,284.31 L529.85,284.98 L530.63,285.63 L531.42,286.26 L532.24,286.86 L533.07,287.40 L533.92,287.85 L534.79,288.19 L535.67,288.39 L536.57,288.44 L537.47,288.30 L538.38,287.97 L539.28,287.48 L540.15,286.88 L540.97,286.19 L541.74,285.45 L542.46,284.66 L543.14,283.83 L543.78,282.98 L544.39,282.10 L544.97,281.21 L545.54,280.31 L546.09,279.42 L546.64,278.53 L547.19,277.66 L547.74,276.81 L548.31,275.99 L548.90,275.20 L548.90,275.20 L549.10,242.80 L549.20,432.00 L703.15,432.00" stroke="#c414c8"/>
<path d="M44.15,432.00 L73.90,432.00 L73.90,404.10 L73.90,404.10 C74.05,403.87 74.37,403.18 74.80,402.70 C75.23,402.22 75.88,401.67 76.50,401.20 C77.12,400.73 77.40,400.35 78.50,399.90 C79.60,399.45 82.33,398.73 83.10,398.50 L83.10,398.50 L84.10,397.92 L85.10,397.81 L86.10,397.71 L87.11,397.61 L88.11,397.51 L89.11,397.41 L90.11,397.32 L91.11,397.22 L92.11,397.13 L93.11,397.04 L94.11,396.95 L95.12,396.86 L96.12,396.77 L97.12,396.69 L98.12,396.60 L99.12,396.52 L100.12,396.44 L101.12,396.36 L102.12,396.28 L103.13,396.20 L104.13,396.13 L105.13,396.05 L106.13,395.98 L107.13,395.91 L108.13,395.83 L109.13,395.77 L110.13,395.70 L111.14,395.63 L112.14,395.56 L113.14,395.50 L114.14,395.44 L115.14,395.37 L116.14,395.31 L117.14,395.25 L118.15,395.19 L119.15,395.14 L120.15,395.08 L121.15,395.03 L122.15,394.97 L123.15,394.92 L124.15,394.87 L125.15,394.81 L126.16,394.76 L127.16,394.71 L128.16,394.67 L129.16,394.62 L130.16,394.57 L131.16,394.53 L132.16,394.48 L133.16,394.44 L134.17,394.40 L135.17,394.36 L136.17,394.31 L137.17,394.27 L138.17,394.24 L139.17,394.20 L140.17,394.16 L141.18,394.12 L142.18,394.09 L143.18,394.05 L144.18,394.02 L145.18,393.98 L146.18,393.95 L147.18,393.92 L148.18,393.89 L149.19,393.85 L150.19,393.82 L151.19,393.79 L152.19,393.77 L153.19,393.74 L154.19,393.71 L155.19,393.68 L156.19,393.66 L157.20,393.63 L158.20,393.60 L159.20,393.58 L160.20,393.55 L161.20,393.53 L162.20,393.51 L163.20,393.48 L164.20,393.46 L165.21,393.44 L166.21,393.42 L167.21,393.39 L168.21,393.37 L169.21,393.35 L170.21,393.33 L171.21,393.31 L172.22,393.29 L173.22,393.27 L174.22,393.25 L175.22,393.23 L176.22,393.22 L177.22,393.20 L178.22,393.18 L179.22,393.16 L180.23,393.14 L181.23,393.13 L182.23,393.11 L183.23,393.09 L184.23,393.07 L185.23,393.06 L186.23,393.04 L187.23,393.02 L188.24,393.01 L189.24,392.99 L190.24,392.97 L191.24,392.96 L192.24,392.94 L193.24,392.93 L194.24,392.91 L195.24,392.89 L196.25,392.88 L197.25,392.86 L198.25,392.84 L199.25,392.83 L200.25,392.81 L201.25,392.79 L202.25,392.78 L203.26,392.76 L204.26,392.74 L205.26,392.73 L206.26,392.71 L207.26,392.69 L208.26,392.68 L209.26,392.66 L210.26,392.64 L211.27,392.63 L212.27,392.61 L213.27,392.60 L214.27,392.58 L215.27,392.56 L216.27,392.55 L217.27,392.53 L218.27,392.51 L219.28,392.50 L220.28,392.48 L221.28,392.47 L222.28,392.45 L223.28,392.43 L224.28,392.42 L225.28,392.40 L226.29,392.39 L227.29,392.37 L228.29,392.35 L229.29,392.34 L230.29,392.32 L231.29,392.31 L232.29,392.29 L233.29,392.28 L234.30,392.26 L235.30,392.25 L236.30,392.23 L237.30,392.22 L238.30,392.20 L239.30,392.19 L240.30,392.17 L241.30,392.16 L242.31,392.14 L243.31,392.13 L244.31,392.12 L245.31,392.10 L246.31,392.09 L247.31,392.08 L248.31,392.06 L249.31,392.05 L250.32,392.04 L251.32,392.02 L252.32,392.01 L253.32,392.00 L254.32,391.98 L255.32,391.97 L256.32,391.96 L257.33,391.95 L258.33,391.94 L259.33,391.92 L260.33,391.91 L261.33,391.90 L262.33,391.89 L263.33,391.88 L264.33,391.87 L265.34,391.86 L266.34,391.85 L267.34,391.84 L268.34,391.83 L269.34,391.82 L270.34,391.81 L271.34,391.80 L272.34,391.79 L273.35,391.78 L274.35,391.77 L275.35,391.76 L276.35,391.76 L277.35,391.75 L278.35,391.74 L279.35,391.73 L280.36,391.73 L281.36,391.72 L282.36,391.71 L283.36,391.71 L284.36,391.70 L285.36,391.69 L286.36,391.69 L287.36,391.68 L288.37,391.68 L289.37,391.67 L290.37,391.67 L291.37,391.66 L292.37,391.66 L293.37,391.66 L294.37,391.65 L295.37,391.65 L296.38,391.65 L297.38,391.64 L298.38,391.64 L299.38,391.64 L300.38,391.64 L301.38,391.64 L302.38,391.64 L303.38,391.64 L304.39,391.64 L305.39,391.64 L306.39,391.64 L307.39,391.64 L308.39,391.64 L309.39,391.64 L310.39,391.64 L311.40,391.64 L312.40,391.64 L313.40,391.65 L314.40,391.65 L315.40,391.65 L316.40,391.66 L317.40,391.66 L318.40,391.67 L319.41,391.67 L320.41,391.68 L321.41,391.68 L322.41,391.69 L323.41,391.70 L324.41,391.70 L325.41,391.71 L326.41,391.72 L327.42,391.73 L328.42,391.73 L329.42,391.74 L330.42,391.75 L331.42,391.76 L332.42,391.77 L333.42,391.78 L334.42,391.79 L335.43,391.81 L336.43,391.82 L337.43,391.83 L338.43,391.84 L339.43,391.85 L340.43,391.87 L341.43,391.88 L342.44,391.90 L343.44,391.91 L344.44,391.93 L345.44,391.94 L346.44,391.96 L347.44,391.98 L348.44,391.99 L349.44,392.01 L350.45,392.03 L351.45,392.05 L352.45,392.07 L353.45,392.09 L354.45,392.11 L355.45,392.13 L356.45,392.15 L357.45,392.17 L358.46,392.19 L359.46,392.22 L360.46,392.24 L361.46,392.26 L362.46,392.29 L363.46,392.31 L364.46,392.34 L365.47,392.36 L366.47,392.39 L367.47,392.42 L368.47,392.44 L369.47,392.47 L370.47,392.50 L371.47,392.53 L372.47,392.56 L373.48,392.59 L374.48,392.62 L375.48,392.65 L376.48,392.68 L377.48,392.71 L378.48,392.75 L379.48,392.78 L380.48,392.81 L381.49,392.85 L382.49,392.88 L383.49,392.92 L384.49,392.96 L385.49,392.99 L386.49,393.03 L387.49,393.07 L388.49,393.11 L389.50,393.15 L390.50,393.19 L391.50,393.23 L392.50,394.40 L392.50,394.40 L393.60,394.65 L394.67,394.98 L395.67,395.41 L396.59,395.91 L397.44,396.50 L398.22,397.16 L398.94,397.88 L399.59,398.66 L400.17,399.50 L400.70,400.39 L401.16,401.33 L401.57,402.30 L401.93,403.31 L402.23,404.34 L402.49,405.40 L402.70,406.47 L402.88,407.55 L403.01,408.64 L403.11,409.73 L403.17,410.81 L403.21,411.89 L403.22,412.94 L403.21,413.98 L403.20,415.00 L403.20,415.00 L403.30,432.00 L425.30,432.00 L425.30,412.00 L425.30,412.00 L425.30,411.06 L425.29,410.07 L425.29,409.05 L425.30,408.02 L425.34,406.97 L425.41,405.92 L425.52,404.88 L425.67,403.85 L425.87,402.84 L426.12,401.87 L426.44,400.93 L426.83,400.03 L427.29,399.19 L427.84,398.42 L428.47,397.71 L429.18,397.07 L429.97,396.50 L430.81,395.98 L431.70,395.52 L432.61,395.09 L433.54,394.71 L434.48,394.35 L435.42,394.03 L436.37,393.74 L437.33,393.47 L438.29,393.24 L439.25,393.02 L440.23,392.84 L441.20,392.67 L442.19,392.53 L443.18,392.41 L444.17,392.31 L445.17,392.23 L446.17,392.17 L447.18,392.13 L448.20,392.10 L449.22,392.08 L450.24,392.08 L451.27,392.09 L452.31,392.11 L453.34,392.14 L454.39,392.18 L455.43,392.22 L456.49,392.28 L457.54,392.33 L458.60,392.40 L459.67,392.46 L460.74,392.53 L461.81,392.60 L462.88,392.67 L463.95,392.75 L465.02,392.85 L466.07,392.96 L467.12,393.08 L468.16,393.22 L469.19,393.38 L470.20,393.57 L471.19,393.78 L472.16,394.03 L473.10,394.30 L474.03,394.61 L474.92,394.95 L475.79,395.33 L476.62,395.76 L477.42,396.23 L478.18,396.75 L478.91,397.31 L479.59,397.93 L480.23,398.60 L480.83,399.33 L481.37,400.12 L481.87,400.97 L482.32,401.87 L482.73,402.81 L483.09,403.79 L483.40,404.80 L483.68,405.83 L483.91,406.87 L484.11,407.93 L484.26,408.99 L484.38,410.04 L484.47,411.08 L484.52,412.10 L484.53,413.09 L484.52,414.06 L484.50,415.00 L484.50,415.00 L484.50,432.00 L507.00,432.00 L507.00,410.00 L507.00,410.00 L506.85,408.96 L506.75,407.89 L506.72,406.82 L506.76,405.76 L506.87,404.71 L507.05,403.67 L507.29,402.67 L507.61,401.70 L508.00,400.76 L508.45,399.88 L508.98,399.05 L509.57,398.28 L510.24,397.58 L510.97,396.95 L511.76,396.39 L512.60,395.89 L513.49,395.44 L514.43,395.05 L515.40,394.70 L516.39,394.40 L517.41,394.13 L518.44,393.90 L519.48,393.70 L520.53,393.52 L521.57,393.37 L522.61,393.24 L523.66,393.13 L524.70,393.04 L525.74,392.97 L526.78,392.91 L527.83,392.87 L528.87,392.84 L529.91,392.83 L530.95,392.83 L531.99,392.85 L533.03,392.87 L534.07,392.90 L535.11,392.94 L536.14,392.99 L537.18,393.04 L538.21,393.10 L539.25,393.16 L540.28,393.22 L541.31,393.28 L542.34,393.35 L543.37,393.41 L544.40,393.47 L545.42,393.53 L546.45,393.58 L547.47,393.62 L548.50,393.70 L548.50,393.70 L549.00,432.00 L703.15,432.00" stroke="#c6c622"/>
<path d="M44.15,410.50 L74.00,410.50 L74.00,410.50 L75.00,411.32 L76.00,411.09 L77.00,410.84 L78.01,410.59 L79.01,410.34 L80.01,410.07 L81.01,409.81 L82.01,409.53 L83.01,409.25 L84.01,408.96 L85.01,408.67 L86.02,408.37 L87.02,408.06 L88.02,407.75 L89.02,407.43 L90.02,407.11 L91.02,406.78 L92.02,406.45 L93.03,406.11 L94.03,405.77 L95.03,405.42 L96.03,405.07 L97.03,404.72 L98.03,404.36 L99.03,403.99 L100.03,403.62 L101.04,403.25 L102.04,402.88 L103.04,402.50 L104.04,402.11 L105.04,401.72 L106.04,401.33 L107.04,400.94 L108.05,400.54 L109.05,400.14 L110.05,399.74 L111.05,399.33 L112.05,398.92 L113.05,398.51 L114.05,398.10 L115.05,397.68 L116.06,397.27 L117.06,396.85 L118.06,396.42 L119.06,396.00 L120.06,395.57 L121.06,395.15 L122.06,394.72 L123.07,394.29 L124.07,393.86 L125.07,393.43 L126.07,392.99 L127.07,392.56 L128.07,392.12 L129.07,391.69 L130.07,391.25 L131.08,390.82 L132.08,390.38 L133.08,389.94 L134.08,389.51 L135.08,389.07 L136.08,388.63 L137.08,388.20 L138.09,387.76 L139.09,387.33 L140.09,386.89 L141.09,386.46 L142.09,386.03 L143.09,385.60 L144.09,385.17 L145.09,384.74 L146.10,384.31 L147.10,383.88 L148.10,383.46 L149.10,383.04 L150.10,382.62 L151.10,382.20 L152.10,381.78 L153.11,381.37 L154.11,380.96 L155.11,380.55 L156.11,380.14 L157.11,379.74 L158.11,379.34 L159.11,378.94 L160.12,378.54 L161.12,378.15 L162.12,377.75 L163.12,377.37 L164.12,376.98 L165.12,376.59 L166.12,376.21 L167.12,375.83 L168.13,375.45 L169.13,375.08 L170.13,374.71 L171.13,374.33 L172.13,373.97 L173.13,373.60 L174.13,373.23 L175.14,372.87 L176.14,372.51 L177.14,372.15 L178.14,371.80 L179.14,371.44 L180.14,371.09 L181.14,370.74 L182.14,370.40 L183.15,370.05 L184.15,369.71 L185.15,369.37 L186.15,369.03 L187.15,368.69 L188.15,368.35 L189.15,368.02 L190.16,367.69 L191.16,367.36 L192.16,367.03 L193.16,366.70 L194.16,366.38 L195.16,366.05 L196.16,365.73 L197.16,365.41 L198.17,365.10 L199.17,364.78 L200.17,364.47 L201.17,364.15 L202.17,363.84 L203.17,363.53 L204.17,363.23 L205.18,362.92 L206.18,362.62 L207.18,362.31 L208.18,362.01 L209.18,361.71 L210.18,361.42 L211.18,361.12 L212.18,360.82 L213.19,360.53 L214.19,360.24 L215.19,359.95 L216.19,359.66 L217.19,359.37 L218.19,359.08 L219.19,358.80 L220.20,358.52 L221.20,358.23 L222.20,357.95 L223.20,357.67 L224.20,357.39 L225.20,357.12 L226.20,356.84 L227.20,356.56 L228.21,356.29 L229.21,356.02 L230.21,355.75 L231.21,355.48 L232.21,355.21 L233.21,354.94 L234.21,354.67 L235.22,354.41 L236.22,354.14 L237.22,353.88 L238.22,353.61 L239.22,353.35 L240.22,353.09 L241.22,352.83 L242.22,352.57 L243.23,352.31 L244.23,352.06 L245.23,351.80 L246.23,351.55 L247.23,351.29 L248.23,351.04 L249.23,350.78 L250.24,350.53 L251.24,350.28 L252.24,350.03 L253.24,349.78 L254.24,349.53 L255.24,349.28 L256.24,349.03 L257.24,348.79 L258.25,348.54 L259.25,348.29 L260.25,348.05 L261.25,347.80 L262.25,347.56 L263.25,347.32 L264.25,347.07 L265.26,346.83 L266.26,346.59 L267.26,346.35 L268.26,346.11 L269.26,345.87 L270.26,345.63 L271.26,345.39 L272.26,345.15 L273.27,344.91 L274.27,344.67 L275.27,344.43 L276.27,344.19 L277.27,343.95 L278.27,343.72 L279.27,343.48 L280.28,343.24 L281.28,343.00 L282.28,342.77 L283.28,342.53 L284.28,342.30 L285.28,342.06 L286.28,341.82 L287.28,341.59 L288.29,341.35 L289.29,341.12 L290.29,340.88 L291.29,340.64 L292.29,340.41 L293.29,340.17 L294.29,339.94 L295.30,339.70 L296.30,339.47 L297.30,339.23 L298.30,338.99 L299.30,338.76 L300.30,338.52 L301.30,338.29 L302.31,338.05 L303.31,337.81 L304.31,337.58 L305.31,337.34 L306.31,337.10 L307.31,336.86 L308.31,336.63 L309.31,336.39 L310.32,336.15 L311.32,335.91 L312.32,335.67 L313.32,335.43 L314.32,335.19 L315.32,334.95 L316.32,334.71 L317.33,334.47 L318.33,334.23 L319.33,333.99 L320.33,333.74 L321.33,333.50 L322.33,333.26 L323.33,333.01 L324.33,332.77 L325.34,332.52 L326.34,332.28 L327.34,332.03 L328.34,331.78 L329.34,331.53 L330.34,331.29 L331.34,331.04 L332.35,330.79 L333.35,330.54 L334.35,330.28 L335.35,330.03 L336.35,329.78 L337.35,329.53 L338.35,329.27 L339.35,329.02 L340.36,328.76 L341.36,328.50 L342.36,328.24 L343.36,327.98 L344.36,327.72 L345.36,327.46 L346.36,327.20 L347.37,326.94 L348.37,326.68 L349.37,326.41 L350.37,326.14 L351.37,325.88 L352.37,325.61 L353.37,325.34 L354.37,325.07 L355.38,324.80 L356.38,324.53 L357.38,324.25 L358.38,323.98 L359.38,323.70 L360.38,323.42 L361.38,323.14 L362.39,322.86 L363.39,322.58 L364.39,322.30 L365.39,322.02 L366.39,321.73 L367.39,321.44 L368.39,321.16 L369.39,320.87 L370.40,320.58 L371.40,320.28 L372.40,319.99 L373.40,319.90 L373.40,319.90 C374.50,319.58 377.73,318.60 380.00,318.00 C382.27,317.40 384.83,316.73 387.00,316.30 C389.17,315.87 391.00,315.62 393.00,315.40 C395.00,315.18 397.00,315.09 399.00,315.00 C401.00,314.91 402.83,314.88 405.00,314.85 C407.17,314.82 408.60,314.81 412.00,314.80 C415.40,314.79 421.57,314.97 425.40,314.80 C429.23,314.63 431.73,314.30 435.00,313.80 C438.27,313.30 441.33,312.65 445.00,311.80 C448.67,310.95 453.83,309.57 457.00,308.70 C460.17,307.83 461.73,307.23 464.00,306.60 C466.27,305.97 468.37,305.35 470.60,304.90 C472.83,304.45 475.00,304.10 477.40,303.90 C479.80,303.70 480.08,303.73 485.00,303.70 C489.92,303.67 502.07,303.82 506.90,303.70 C511.73,303.58 511.75,303.33 514.00,303.00 C516.25,302.67 518.23,302.20 520.40,301.70 C522.57,301.20 524.73,300.60 527.00,300.00 C529.27,299.40 531.92,298.63 534.00,298.10 C536.08,297.57 537.78,297.18 539.50,296.80 C541.22,296.42 543.00,296.05 544.30,295.80 C545.60,295.55 546.45,295.42 547.30,295.30 C548.15,295.18 549.05,295.13 549.40,295.10 L549.40,295.10 L703.15,295.10" stroke="#1ebec6"/>
</g></g>
<path d="M44.00,238.50 H703.50 M44.00,433.00 H703.50" stroke="#5a5a5a" stroke-width="1" fill="none"/>
<path d="M44.50,238.50 V433.00 M703.00,238.50 V433.00" stroke="#606060" stroke-width="1.1" fill="none"/>
<path d="M69.50,433.00 v3.5 M120.19,433.00 v3.5 M170.88,433.00 v3.5 M221.57,433.00 v3.5 M272.26,433.00 v3.5 M322.95,433.00 v3.5 M373.64,433.00 v3.5 M424.33,433.00 v3.5 M475.02,433.00 v3.5 M525.71,433.00 v3.5 M576.40,433.00 v3.5 M627.09,433.00 v3.5 M677.78,433.00 v3.5 M44.50,433.00 h-3.5 M703.00,433.00 h3.5 M44.50,387.24 h-3.5 M703.00,387.24 h3.5 M44.50,341.48 h-3.5 M703.00,341.48 h3.5 M44.50,295.72 h-3.5 M703.00,295.72 h3.5 M44.50,249.96 h-3.5 M703.00,249.96 h3.5" stroke="#5a5a5a" stroke-width="1" fill="none"/>
<g font-family='"Liberation Sans", sans-serif' fill="#262626" style="filter:grayscale(1)"><text x="41.60" y="205.80" text-anchor="end" font-size="12.70" textLength="19.60" lengthAdjust="spacingAndGlyphs">0.0</text><text x="41.60" y="175.82" text-anchor="end" font-size="12.70" textLength="19.60" lengthAdjust="spacingAndGlyphs">0.1</text><text x="41.60" y="145.84" text-anchor="end" font-size="12.70" textLength="19.60" lengthAdjust="spacingAndGlyphs">0.2</text><text x="41.60" y="115.86" text-anchor="end" font-size="12.70" textLength="19.60" lengthAdjust="spacingAndGlyphs">0.3</text><text x="41.60" y="85.88" text-anchor="end" font-size="12.70" textLength="19.60" lengthAdjust="spacingAndGlyphs">0.4</text><text x="41.60" y="55.90" text-anchor="end" font-size="12.70" textLength="19.60" lengthAdjust="spacingAndGlyphs">0.5</text><text x="41.60" y="25.92" text-anchor="end" font-size="12.70" textLength="19.60" lengthAdjust="spacingAndGlyphs">0.6</text><text x="705.50" y="205.80" text-anchor="start" font-size="12.70" textLength="8.10" lengthAdjust="spacingAndGlyphs">0</text><text x="705.50" y="160.83" text-anchor="start" font-size="12.70" textLength="15.00" lengthAdjust="spacingAndGlyphs">50</text><text x="705.50" y="115.86" text-anchor="start" font-size="12.70" textLength="23.40" lengthAdjust="spacingAndGlyphs">100</text><text x="705.50" y="70.89" text-anchor="start" font-size="12.70" textLength="23.40" lengthAdjust="spacingAndGlyphs">150</text><text x="705.50" y="25.92" text-anchor="start" font-size="12.70" textLength="23.40" lengthAdjust="spacingAndGlyphs">200</text><text x="73.20" y="217.40" text-anchor="middle" font-size="12.70" textLength="8.10" lengthAdjust="spacingAndGlyphs">6</text><text x="123.30" y="217.40" text-anchor="middle" font-size="12.70" textLength="8.10" lengthAdjust="spacingAndGlyphs">7</text><text x="173.40" y="217.40" text-anchor="middle" font-size="12.70" textLength="8.10" lengthAdjust="spacingAndGlyphs">8</text><text x="223.50" y="217.40" text-anchor="middle" font-size="12.70" textLength="8.10" lengthAdjust="spacingAndGlyphs">9</text><text x="273.60" y="217.40" text-anchor="middle" font-size="12.70" textLength="15.00" lengthAdjust="spacingAndGlyphs">10</text><text x="323.70" y="217.40" text-anchor="middle" font-size="12.70" textLength="15.00" lengthAdjust="spacingAndGlyphs">11</text><text x="373.80" y="217.40" text-anchor="middle" font-size="12.70" textLength="15.00" lengthAdjust="spacingAndGlyphs">12</text><text x="423.90" y="217.40" text-anchor="middle" font-size="12.70" textLength="15.00" lengthAdjust="spacingAndGlyphs">13</text><text x="474.00" y="217.40" text-anchor="middle" font-size="12.70" textLength="15.00" lengthAdjust="spacingAndGlyphs">14</text><text x="524.10" y="217.40" text-anchor="middle" font-size="12.70" textLength="15.00" lengthAdjust="spacingAndGlyphs">15</text><text x="574.20" y="217.40" text-anchor="middle" font-size="12.70" textLength="15.00" lengthAdjust="spacingAndGlyphs">16</text><text x="624.30" y="217.40" text-anchor="middle" font-size="12.70" textLength="15.00" lengthAdjust="spacingAndGlyphs">17</text><text x="674.40" y="217.40" text-anchor="middle" font-size="12.70" textLength="15.00" lengthAdjust="spacingAndGlyphs">18</text><text x="373.80" y="233.30" text-anchor="middle" font-size="12.70" textLength="56.00" lengthAdjust="spacingAndGlyphs">time in h</text><text x="37.60" y="437.70" text-anchor="end" font-size="12.70" textLength="8.10" lengthAdjust="spacingAndGlyphs">0</text><text x="37.60" y="391.94" text-anchor="end" font-size="12.70" textLength="15.00" lengthAdjust="spacingAndGlyphs">20</text><text x="37.60" y="346.18" text-anchor="end" font-size="12.70" textLength="15.00" lengthAdjust="spacingAndGlyphs">40</text><text x="37.60" y="300.42" text-anchor="end" font-size="12.70" textLength="15.00" lengthAdjust="spacingAndGlyphs">60</text><text x="37.60" y="254.66" text-anchor="end" font-size="12.70" textLength="15.00" lengthAdjust="spacingAndGlyphs">80</text><text x="709.60" y="437.70" text-anchor="start" font-size="12.70" textLength="19.60" lengthAdjust="spacingAndGlyphs">3.3</text><text x="709.60" y="391.94" text-anchor="start" font-size="12.70" textLength="19.60" lengthAdjust="spacingAndGlyphs">3.6</text><text x="709.60" y="346.18" text-anchor="start" font-size="12.70" textLength="19.60" lengthAdjust="spacingAndGlyphs">3.9</text><text x="709.60" y="300.42" text-anchor="start" font-size="12.70" textLength="19.60" lengthAdjust="spacingAndGlyphs">4.2</text><text x="709.60" y="254.66" text-anchor="start" font-size="12.70" textLength="19.60" lengthAdjust="spacingAndGlyphs">4.5</text><text x="69.50" y="448.90" text-anchor="middle" font-size="12.70" textLength="8.10" lengthAdjust="spacingAndGlyphs">6</text><text x="120.19" y="448.90" text-anchor="middle" font-size="12.70" textLength="8.10" lengthAdjust="spacingAndGlyphs">7</text><text x="170.88" y="448.90" text-anchor="middle" font-size="12.70" textLength="8.10" lengthAdjust="spacingAndGlyphs">8</text><text x="221.57" y="448.90" text-anchor="middle" font-size="12.70" textLength="8.10" lengthAdjust="spacingAndGlyphs">9</text><text x="272.26" y="448.90" text-anchor="middle" font-size="12.70" textLength="15.00" lengthAdjust="spacingAndGlyphs">10</text><text x="322.95" y="448.90" text-anchor="middle" font-size="12.70" textLength="15.00" lengthAdjust="spacingAndGlyphs">11</text><text x="373.64" y="448.90" text-anchor="middle" font-size="12.70" textLength="15.00" lengthAdjust="spacingAndGlyphs">12</text><text x="424.33" y="448.90" text-anchor="middle" font-size="12.70" textLength="15.00" lengthAdjust="spacingAndGlyphs">13</text><text x="475.02" y="448.90" text-anchor="middle" font-size="12.70" textLength="15.00" lengthAdjust="spacingAndGlyphs">14</text><text x="525.71" y="448.90" text-anchor="middle" font-size="12.70" textLength="15.00" lengthAdjust="spacingAndGlyphs">15</text><text x="576.40" y="448.90" text-anchor="middle" font-size="12.70" textLength="15.00" lengthAdjust="spacingAndGlyphs">16</text><text x="627.09" y="448.90" text-anchor="middle" font-size="12.70" textLength="15.00" lengthAdjust="spacingAndGlyphs">17</text><text x="677.78" y="448.90" text-anchor="middle" font-size="12.70" textLength="15.00" lengthAdjust="spacingAndGlyphs">18</text><text x="373.80" y="464.80" text-anchor="middle" font-size="12.70" textLength="56.00" lengthAdjust="spacingAndGlyphs">time in h</text><text transform="translate(16.2,104.3) rotate(-90)" text-anchor="middle" font-size="12.70" textLength="75" lengthAdjust="spacingAndGlyphs">Voltage in V</text><text transform="translate(16.2,336.0) rotate(-90)" text-anchor="middle" font-size="12.70" textLength="91" lengthAdjust="spacingAndGlyphs">Efficiency in %</text><text transform="translate(742.0,104.3) rotate(-90)" text-anchor="middle" font-size="12.70" textLength="87" lengthAdjust="spacingAndGlyphs">Current in mA</text><text transform="translate(740.6,335.7) rotate(-90)" text-anchor="middle" font-size="12.70" textLength="75" lengthAdjust="spacingAndGlyphs">Voltage in V</text></g>
<g stroke-opacity="0.85"><rect x="54.5" y="13.3" width="219.3" height="23.4" rx="2.5" fill="#fff" fill-opacity="0.8" stroke="#d6d6d6" stroke-width="1"/><path d="M59,23.7 H84.8" stroke="#238e23" stroke-width="1.55"/><path d="M146.5,23.7 H173" stroke="#1c1cfa" stroke-width="1.55"/><path d="M223,23.7 H248.9" stroke="#f51616" stroke-width="1.55"/><rect x="618.7" y="365.4" width="78.0" height="60.7" rx="2.5" fill="#fff" fill-opacity="0.8" stroke="#d6d6d6" stroke-width="1"/><path d="M623,375.8 H649.4" stroke="#c414c8" stroke-width="1.55"/><path d="M623,395.2 H649.4" stroke="#c6c622" stroke-width="1.55"/><path d="M623,414.8 H649.4" stroke="#1ebec6" stroke-width="1.55"/></g>
<g font-family='"Liberation Sans", sans-serif' fill="#1a1a1a" style="filter:grayscale(1)"><text x="95.0" y="28.0" font-size="12.70" font-style="italic">V</text><text x="103.0" y="29.9" font-size="8.90" textLength="19.3" lengthAdjust="spacingAndGlyphs">mpp</text><text x="182.4" y="28.0" font-size="12.70" font-style="italic">V</text><text x="190.6" y="29.9" font-size="8.90" textLength="8.0" lengthAdjust="spacingAndGlyphs">in</text><text x="258.2" y="28.0" font-size="12.70" font-style="italic">I</text><text x="262.0" y="29.9" font-size="8.90" textLength="8.0" lengthAdjust="spacingAndGlyphs">in</text><text x="658.3" y="380.0" font-size="12.70" font-style="italic" textLength="7.6" lengthAdjust="spacingAndGlyphs">&#951;</text><text x="666.2" y="381.7" font-size="8.90" textLength="25.4" lengthAdjust="spacingAndGlyphs">DCDC</text><text x="658.3" y="399.4" font-size="12.70" font-style="italic" textLength="7.6" lengthAdjust="spacingAndGlyphs">&#951;</text><text x="666.2" y="401.1" font-size="8.90" textLength="20.5" lengthAdjust="spacingAndGlyphs">solar</text><text x="659.3" y="418.3" font-size="12.70" font-style="italic">V</text><text x="666.8" y="420.2" font-size="8.90" textLength="13.9" lengthAdjust="spacingAndGlyphs">out</text></g>
</svg>
</body></html>
